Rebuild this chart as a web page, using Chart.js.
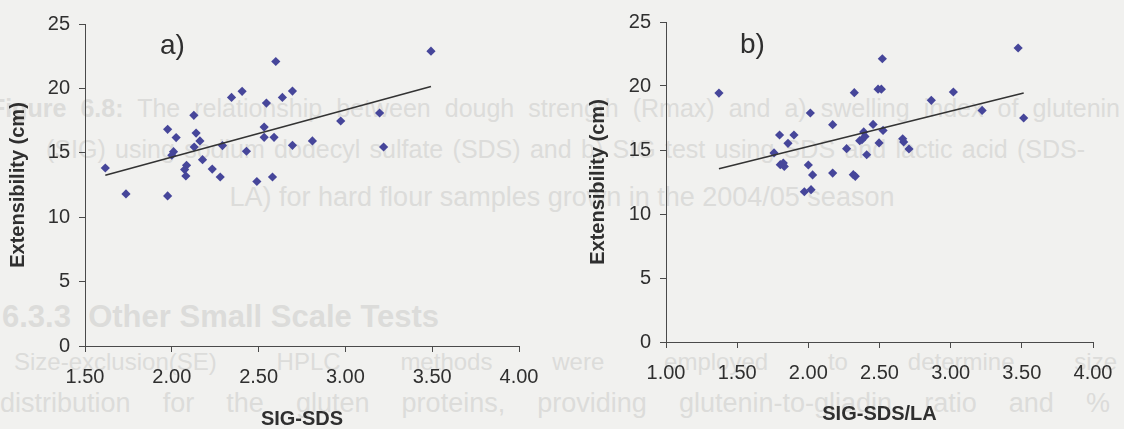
<!DOCTYPE html>
<html>
<head>
<meta charset="utf-8">
<script src="https://cdn.jsdelivr.net/npm/chart.js@4/dist/chart.umd.min.js"></script>
<style>
  html, body { margin: 0; padding: 0; background: #f1f1ef; overflow: hidden; }
  #page { position: relative; width: 1124px; height: 429px; overflow: hidden; }
  /* faint text from the facing page showing through the paper */
  .ghost {
    position: absolute;
    color: #dcdcda;
    font-family: "Liberation Sans", Arial, sans-serif;
    font-size: 24px;
    line-height: 1;
    white-space: nowrap;
  }
  .just { text-align: justify; text-align-last: justify; }
  .mid { text-align: center; }
  canvas { position: absolute; top: 0; }
  #chartA { left: 0; }
  #chartB { left: 560px; }
</style>
</head>
<body>
<div id="page">
  <div class="ghost just" style="left:-10px; top:96px; width:1130px; font-size:25px;"><b>Figure 6.8:</b> The relationship between dough strength (Rmax) and a) swelling index of glutenin</div>
  <div class="ghost just" style="left:46px; top:137px; width:1039px; font-size:25px;">(SIG) using sodium dodecyl sulfate (SDS) and b) SIG test using SDS and lactic acid (SDS-</div>
  <div class="ghost mid" style="left:0; top:184px; width:1124px; font-size:27px;">LA) for hard flour samples grown in the 2004/05 season</div>
  <div class="ghost" style="left:2px; top:301px; font-size:31px; font-weight:bold;">6.3.3&nbsp; Other Small Scale Tests</div>
  <div class="ghost just" style="left:14px; top:350px; width:1103px;">Size-exclusion(SE) HPLC methods were employed to determine size</div>
  <div class="ghost just" style="left:0; top:390px; width:1110px; font-size:27px;">distribution for the gluten proteins, providing glutenin-to-gliadin ratio and %</div>
  <canvas id="chartA" width="560" height="429"></canvas>
  <canvas id="chartB" width="564" height="429"></canvas>
</div>
<script>
// a) extensibility against SIG-SDS
const sigSds = [1.617, 1.736, 1.976, 1.976, 2.025, 2.010, 2.000, 2.085, 2.074, 2.081,
  2.127, 2.140, 2.129, 2.162, 2.177, 2.233, 2.279, 2.292, 2.344, 2.405,
  2.430, 2.490, 2.545, 2.532, 2.532, 2.599, 2.589, 2.580, 2.637, 2.695,
  2.695, 2.810, 2.973, 3.197, 3.220, 3.493];
const extensA = [13.82, 11.81, 16.82, 11.65, 16.18, 15.09, 14.81, 14.03, 13.70, 13.20,
  17.91, 16.53, 15.45, 15.92, 14.47, 13.74, 13.12, 15.56, 19.30, 19.77,
  15.12, 12.77, 18.86, 17.00, 16.20, 22.09, 16.20, 13.12, 19.30, 19.79,
  15.58, 15.92, 17.47, 18.09, 15.45, 22.89];

// b) extensibility against SIG-SDS/LA
const sigSdsLa = [1.372, 1.759, 1.798, 1.899, 1.857, 1.803, 1.831, 1.824, 2.014, 2.000,
  2.030, 1.972, 2.019, 2.171, 2.171, 2.269, 2.323, 2.316, 2.330, 2.520,
  2.490, 2.513, 2.864, 3.019, 3.221, 3.474, 3.513, 2.455, 2.525, 2.389,
  2.377, 2.361, 2.398, 2.497, 2.410, 2.663, 2.670, 2.707];
const extensB = [19.45, 14.77, 16.17, 16.17, 15.52, 13.85, 13.72, 13.98, 17.89, 13.83,
  13.05, 11.74, 11.90, 16.98, 13.20, 15.10, 19.48, 13.07, 12.94, 22.13,
  19.75, 19.75, 18.88, 19.53, 18.09, 22.97, 17.50, 17.00, 16.53, 16.41,
  15.80, 15.73, 16.06, 15.55, 14.63, 15.88, 15.63, 15.08];

const xTicksA = [1.5, 2.0, 2.5, 3.0, 3.5, 4.0];
const xTicksB = [1.0, 1.5, 2.0, 2.5, 3.0, 3.5, 4.0];
const yTicks = [0, 5, 10, 15, 20, 25];

const FONT = '"Liberation Sans", Arial, sans-serif';
const INK = '#2f2f2f';
const AXIS = '#4a4a4a';
const MARK = '#46469a';

// least-squares line over the data range
function fitLine(xs, ys) {
  const n = xs.length;
  const mx = xs.reduce((a, b) => a + b, 0) / n;
  const my = ys.reduce((a, b) => a + b, 0) / n;
  let sxy = 0, sxx = 0;
  for (let i = 0; i < n; i++) {
    sxy += (xs[i] - mx) * (ys[i] - my);
    sxx += (xs[i] - mx) * (xs[i] - mx);
  }
  const slope = sxy / sxx;
  const icpt = my - slope * mx;
  const lo = Math.min(...xs), hi = Math.max(...xs);
  return [{ x: lo, y: icpt + slope * lo }, { x: hi, y: icpt + slope * hi }];
}

// "a)" / "b)" panel letter
const panelTag = {
  id: 'panelTag',
  afterDraw(chart, args, opts) {
    const ctx = chart.ctx;
    ctx.save();
    ctx.font = '28px ' + FONT;
    ctx.fillStyle = INK;
    ctx.textBaseline = 'middle';
    ctx.fillText(opts.text, opts.x, opts.y);
    ctx.restore();
  }
};

function makeChart(id, xs, ys, xTicks, xTitle, geo) {
  const points = xs.map((x, i) => ({ x: x, y: ys[i] }));
  return new Chart(document.getElementById(id), {
    type: 'scatter',
    data: {
      datasets: [
        {
          data: points,
          pointStyle: 'rectRot',
          pointRadius: 4.6,
          pointBackgroundColor: MARK,
          pointBorderColor: MARK,
          pointBorderWidth: 0,
          order: 1
        },
        {
          type: 'line',
          data: fitLine(xs, ys),
          borderColor: '#333333',
          borderWidth: 1.6,
          pointRadius: 0,
          fill: false,
          order: 0
        }
      ]
    },
    options: {
      responsive: false,
      animation: false,
      layout: { padding: { top: geo.top, right: geo.right, left: 0, bottom: 0 } },
      plugins: {
        legend: { display: false },
        tooltip: { enabled: false },
        panelTag: { text: geo.tag, x: geo.tagX, y: geo.tagY }
      },
      scales: {
        x: {
          type: 'linear',
          min: xTicks[0],
          max: xTicks[xTicks.length - 1],
          afterBuildTicks: s => { s.ticks = xTicks.map(v => ({ value: v })); },
          afterFit: s => { s.height = geo.xh; s.paddingLeft = 0; s.paddingRight = 0; },
          ticks: {
            font: { family: FONT, size: 20 },
            color: INK,
            padding: 13,
            callback: v => Number(v).toFixed(2)
          },
          grid: { drawOnChartArea: false, tickLength: 6, color: AXIS },
          border: { color: AXIS, width: 1 },
          title: {
            display: true,
            text: xTitle,
            color: INK,
            font: { family: FONT, size: 20, weight: 'bold', lineHeight: 1 },
            padding: { top: 0, bottom: geo.xTitlePad }
          }
        },
        y: {
          min: yTicks[0],
          max: yTicks[yTicks.length - 1],
          afterBuildTicks: s => { s.ticks = yTicks.map(v => ({ value: v })); },
          afterFit: s => { s.width = geo.yw; s.paddingTop = 0; s.paddingBottom = 0; },
          ticks: {
            font: { family: FONT, size: 20 },
            color: INK,
            padding: 9
          },
          grid: { drawOnChartArea: false, tickLength: 6, color: AXIS },
          border: { color: AXIS, width: 1 },
          title: {
            display: true,
            text: 'Extensibility (cm)',
            color: INK,
            font: { family: FONT, size: 20, weight: 'bold', lineHeight: 1 },
            padding: { top: geo.yTitlePad, bottom: 0 }
          }
        }
      }
    },
    plugins: [panelTag]
  });
}

makeChart('chartA', sigSds, extensA, xTicksA, 'SIG-SDS', {
  top: 24, right: 41, yw: 85, xh: 83, yTitlePad: 8, xTitlePad: 0,
  tag: 'a)', tagX: 160, tagY: 46
});

makeChart('chartB', sigSdsLa, extensB, xTicksB, 'SIG-SDS/LA', {
  top: 22, right: 31, yw: 106, xh: 87, yTitlePad: 28, xTitlePad: 5,
  tag: 'b)', tagX: 180, tagY: 45
});
</script>
</body>
</html>
